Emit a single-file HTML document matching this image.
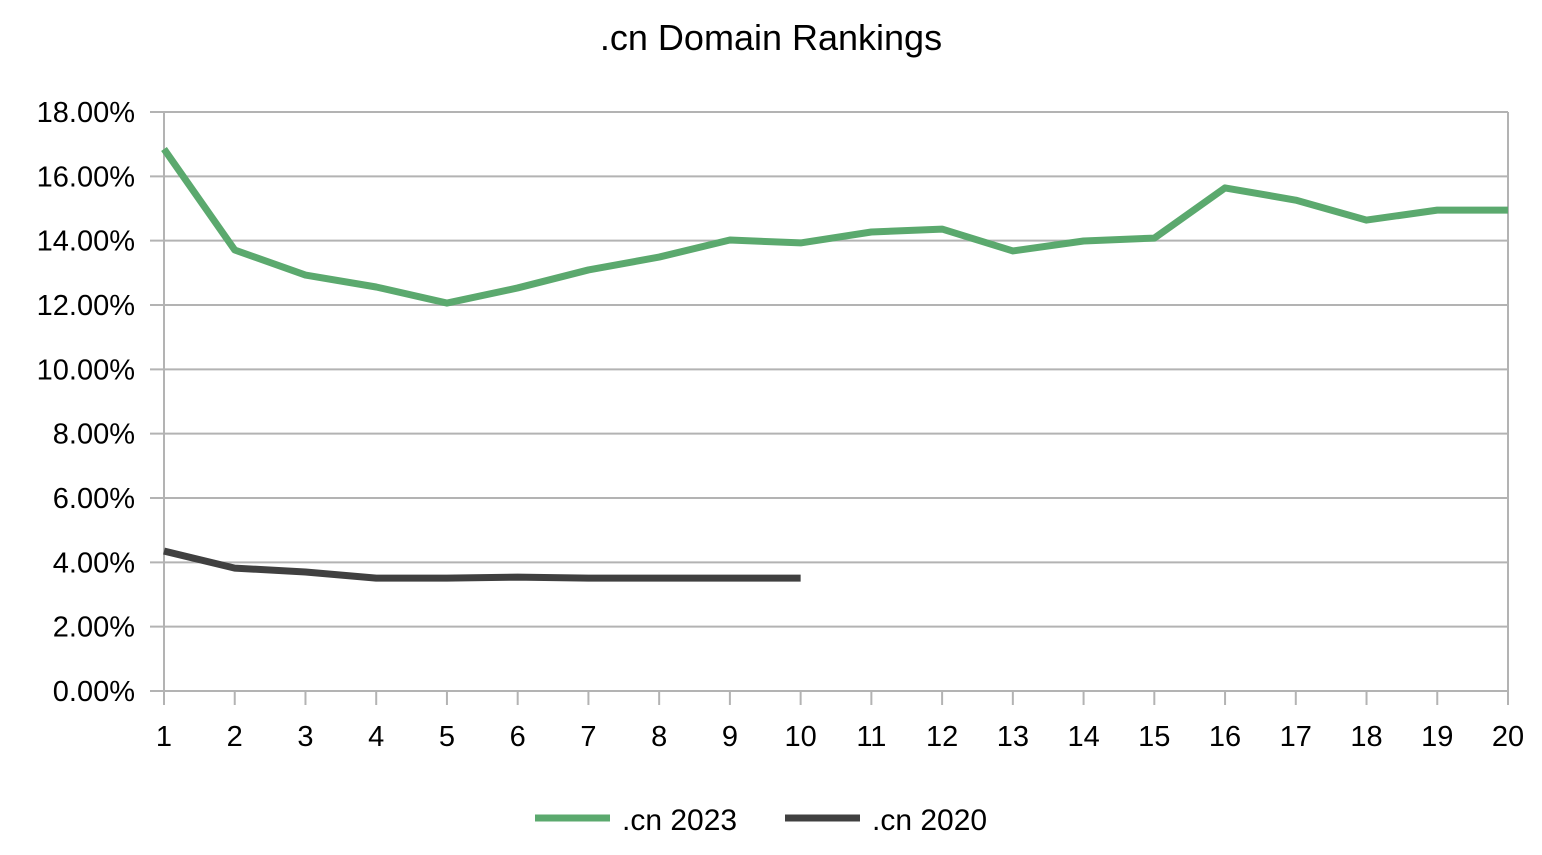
<!DOCTYPE html>
<html><head><meta charset="utf-8"><style>
body{margin:0;background:#fff;}
svg text{font-family:"Liberation Sans",Arial,sans-serif;fill:#000;}
</style></head><body>
<svg id="chart" width="1542" height="850" xmlns="http://www.w3.org/2000/svg">
<text x="771" y="50" font-size="36" text-anchor="middle">.cn Domain Rankings</text>
<g id="grid"></g>
<g id="axes"></g>
<g id="series"></g>
<g>
<g>
<line x1="535" y1="818" x2="610" y2="818" stroke="#5ba96e" stroke-width="7"/>
<text x="622" y="830" font-size="30">.cn 2023</text></g>
<g>
<line x1="785" y1="818" x2="860" y2="818" stroke="#404040" stroke-width="7"/>
<text x="872" y="830" font-size="30">.cn 2020</text></g>
</g>
</svg>
<script>
const categories=[1,2,3,4,5,6,7,8,9,10,11,12,13,14,15,16,17,18,19,20];
const series2023=[16.85,13.71,12.93,12.56,12.06,12.53,13.09,13.49,14.02,13.93,14.27,14.36,13.68,13.99,14.08,15.64,15.26,14.64,14.95,14.95];
const series2020=[4.35,3.82,3.70,3.51,3.51,3.54,3.51,3.51,3.51,3.51];
const yTicks=[0,2,4,6,8,10,12,14,16,18];
const yTickLabels=["0.00%","2.00%","4.00%","6.00%","8.00%","10.00%","12.00%","14.00%","16.00%","18.00%"];
const NS="http://www.w3.org/2000/svg";
const L=164,R=1508,T=112,B=691;
const x=i=>L+(R-L)*i/(categories.length-1);
const y=v=>B-(B-T)*v/18;
function mk(tag,attrs,parent){const e=document.createElementNS(NS,tag);for(const k in attrs)e.setAttribute(k,attrs[k]);parent.appendChild(e);return e;}
const grid=document.getElementById('grid'),axes=document.getElementById('axes'),ser=document.getElementById('series');
yTicks.forEach((v,i)=>{
 const g=mk('line',{x1:150,x2:R,y1:y(v),y2:y(v),stroke:'#b3b3b3','stroke-width':2},grid);
 
 
 const t=mk('text',{x:135,y:y(v)+10,'font-size':29,'text-anchor':'end'},axes);
 t.textContent=yTickLabels[i];
 
 
});
const va=mk('line',{x1:L,x2:L,y1:T,y2:B+14,stroke:'#b3b3b3','stroke-width':2},axes);


const vr=mk('line',{x1:R,x2:R,y1:T,y2:B+14,stroke:'#b3b3b3','stroke-width':2},axes);


categories.forEach((c,i)=>{
 const tk=mk('line',{x1:x(i),x2:x(i),y1:B,y2:B+14,stroke:'#b3b3b3','stroke-width':2},axes);
 
 
 const t=mk('text',{x:x(i),y:746,'font-size':29,'text-anchor':'middle'},axes);
 t.textContent=c;
 
 
});
function line(data,color,name){
 const p=mk('polyline',{points:data.map((v,i)=>x(i)+','+y(v)).join(' '),fill:'none',stroke:color,'stroke-width':7,'stroke-linejoin':'round'},ser);
 
 
}
line(series2023,'#5ba96e','series-cn-2023');
line(series2020,'#404040','series-cn-2020');
</script>
</body></html>
